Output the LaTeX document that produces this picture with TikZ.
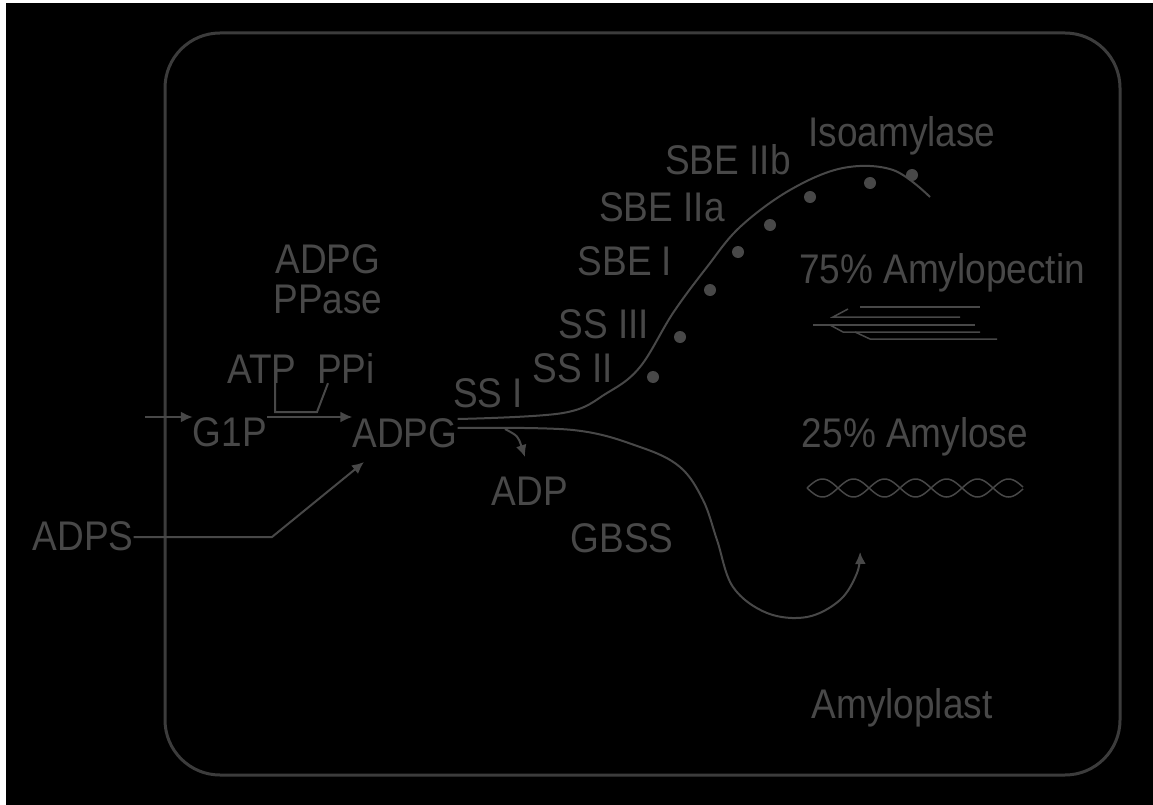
\documentclass[tikz,border=0pt]{standalone}
\usepackage{fontspec}
\setmainfont{Liberation Sans}
\usetikzlibrary{arrows.meta,calc}
\definecolor{fg}{RGB}{72,72,72}
\definecolor{bx}{RGB}{60,60,60}
\newcommand\T[1]{\scalebox{1}[1.12]{#1}}
\begin{document}
\begin{tikzpicture}[x=1pt,y=-1pt,
  lbl/.style={anchor=base, inner sep=0pt, text=fg, font=\fontsize{37}{40}\selectfont},
  ln/.style={draw=fg, line width=2pt},
  arr/.style={ln, -{Latex[length=12pt,width=11pt]}},
  mk/.style={fill=fg}]
\fill[white] (0,0) rectangle (1153,805);
\fill[black] (6,3) rectangle (1153,805);
\useasboundingbox (0,0) rectangle (1153,805);
% frame
\draw[draw=bx, line width=3pt, rounded corners=55pt] (165,33) rectangle (1120,775);
% labels
\node[lbl] (iso) at (902,147) {\T{Isoamylase}};
\node[lbl] (sbeiib) at (728,175) {\T{SBE IIb}};
\node[lbl] (sbeiia) at (662,222) {\T{SBE IIa}};
\node[lbl] (sbei) at (625,275) {\T{SBE I}};
\node[lbl] (ssiii) at (604,338) {\T{SS III}};
\node[lbl] (ssii) at (573,382) {\T{SS II}};
\node[lbl] (ssi) at (488,407) {\T{SS I}};
\node[lbl, anchor=center, align=center] (ppase) at (328,279) {\T{ADPG}\\\T{PPase}};
\node[lbl] (atp) at (262,383) {\T{ATP}};
\node[lbl] (ppi) at (346,383) {\T{PPi}};
\node[lbl] (g1p) at (230,446) {\T{G1P}};
\node[lbl] (adpg) at (405,447) {\T{ADPG}};
\node[lbl] (adps) at (83,550) {\T{ADPS}};
\node[lbl] (adp) at (530,505) {\T{ADP}};
\node[lbl] (gbss) at (622,552) {\T{GBSS}};
\node[lbl] (amp) at (942,283) {\T{75\% Amylopectin}};
\node[lbl] (amy) at (915,447) {\T{25\% Amylose}};
\node[lbl] (plast) at (902,718) {\T{Amyloplast}};
% G1P -> ADPG
\coordinate (in) at (145,417);
\draw[arr] (in) -- (in -| g1p.west);
\draw[arr] (in -| g1p.east) -- (in -| adpg.west);
% ATP / PPi bracket
\coordinate (bk) at (275,412);
\coordinate (bk2) at (317,412);
\coordinate (pk) at (328,0);
\draw[ln] (atp.south -| bk) -- (bk) -- (bk2) -- (ppi.south -| pk);
% ADPS -> ADPG
\coordinate (k1) at (272,537);
\coordinate (adpgin) at (364,462);
\draw[arr] (adps.east |- k1) -- (k1) -- (adpgin);
% curves from ADPG
\coordinate (yu) at (0,419);
\coordinate (yl) at (0,428);
\coordinate (u0) at (adpg.east |- yu);
\coordinate (l0) at (adpg.east |- yl);
\coordinate (uend) at (930,197);
\coordinate (gend) at (860,552);
\draw[ln] plot[smooth, tension=0.6] coordinates {(u0) (563,413) (607,393) (640,367) (673,313) (707,267) (740,227) (790,190) (843,168) (893,170) (uend)};
\draw[arr] plot[smooth, tension=0.6] coordinates {(l0) (573,430) (640,447) (680,467) (703,500) (717,540) (733,587) (767,613) (807,617) (840,600) (857,573) (gend)};
% ADP branch
\coordinate (adpst) at (505,429);
\coordinate (adpend) at (525,457);
\draw[arr] (adpst) .. controls (518,436) .. (adpend);
% markers along the amylopectin path
\foreach \p in {(653,377),(680,337),(710,290),(738,252),(770,225),(810,197),(870,183),(912,175)}
  \fill[mk] \p circle (6);
% amylopectin chains
\draw[ln, line width=1.5pt] (860,307) -- (980,307);
\draw[ln, line width=1.5pt] (848,309) -- (833,317) -- (960,317);
\draw[ln, line width=1.5pt] (813,325) -- (975,325);
\draw[ln, line width=1.5pt] (830,325) -- (843,332) -- (980,332);
\draw[ln, line width=1.5pt] (855,332) -- (870,339) -- (997,339);
% amylose helix
\draw[ln, line width=1.5pt] plot[domain=0:216, samples=120, smooth] ({807+\x}, {488+9*sin(5.806*\x)});
\draw[ln, line width=1.5pt] plot[domain=0:216, samples=120, smooth] ({807+\x}, {488-9*sin(5.806*\x)});
\end{tikzpicture}
\end{document}
